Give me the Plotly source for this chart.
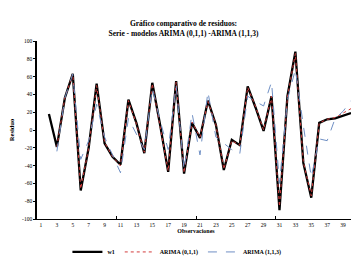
import plotly.graph_objects as go

obs = list(range(1, 41))
w1 = [None, 18, -19, 36, 63, -68, -20, 52, -15, -30,
      -39, 34, 8, -26, 53, 5, -47, 55, -49, 8,
      -9, 33, 6, -45, -11, -17, 49, 25, -1, 38,
      -90, 38, 88, -37, -76, 8, 12, 13, 16, 19]
arima011 = [None, None, -19, 36, 63, -66, -20, 50, -14, -30,
            -40, 33, 7, -25, 52, 5, -46, 54, -48, 9,
            -8, 32, 6, -44, -12, -17, 48, 26, 0, 38,
            -86, 37, 86, -36, -74, 8, 12, 14, 19, 24]
arima113 = [None, None, -24, 36, 63, -33, -12, 29, -8, -28,
            -48, 13, -4, -22, 47, 10, -22, 50, -45, 19,
            -28, 43, -8, -15, -22, -27, 38, 32, 27, 54,
            -60, 34, 68, 5, -53, -10, -12, 13, 21, 33]
y_ticks = list(range(-100, 101, 20))
x_ticks = list(range(1, 40, 2))

serif = "Liberation Serif"

fig = go.Figure()
fig.add_trace(go.Scatter(x=obs, y=w1, mode="lines", name="w1",
                         line=dict(color="#000000", width=2.3)))
fig.add_trace(go.Scatter(x=obs, y=arima011, mode="lines", name="ARIMA (0,1,1)",
                         line=dict(color="#d23c3c", width=1, dash="dot")))
fig.add_trace(go.Scatter(x=obs, y=arima113, mode="lines", name="ARIMA (1,1,3)",
                         line=dict(color="#6f8fc4", width=1, dash="dash")))

fig.update_layout(
    width=351, height=269,
    margin=dict(l=29, r=4, t=33, b=58, autoexpand=False),
    paper_bgcolor="white", plot_bgcolor="white",
    font=dict(family=serif, color="black", size=6),
    title=dict(text="<b>Gráfico comparativo de residuos:<br>Serie - modelos ARIMA (0,1,1) -ARIMA (1,1,3)</b>",
               x=0.5, xanchor="center", y=0.933, yanchor="middle",
               font=dict(family=serif, size=7.5, color="black")),
    showlegend=True,
    legend=dict(orientation="h", x=0.44, xanchor="center", y=-0.185, yanchor="middle",
                font=dict(family=serif, size=6, weight="bold"), bgcolor="rgba(0,0,0,0)",
                tracegroupgap=0),
)
fig.update_xaxes(
    range=[0.5, 40.5], tickvals=x_ticks, ticktext=[str(v) for v in x_ticks],
    showgrid=False, zeroline=False, showline=True, linecolor="black", linewidth=1,
    ticks="", tickfont=dict(size=5.5, family=serif), automargin=False,
    minor=dict(tickvals=[10.5, 20.5, 30.5, 40.5], ticks="inside", ticklen=3,
               tickcolor="black", tickwidth=0.8, showgrid=False),
    title=dict(text="<b>Observaciones</b>", font=dict(size=6, family=serif), standoff=1),
)
fig.update_yaxes(
    range=[-100, 100], tickvals=y_ticks, ticktext=[str(v) for v in y_ticks],
    showgrid=False, zeroline=False, showline=True, linecolor="black", linewidth=1.5,
    ticks="outside", ticklen=2, tickwidth=0.8, tickcolor="black",
    tickfont=dict(size=5.5, family=serif), automargin=False,
    title=dict(text="<b>Residuo</b>", font=dict(size=6.5, family=serif), standoff=7),
)

fig.write_html("out.html")
